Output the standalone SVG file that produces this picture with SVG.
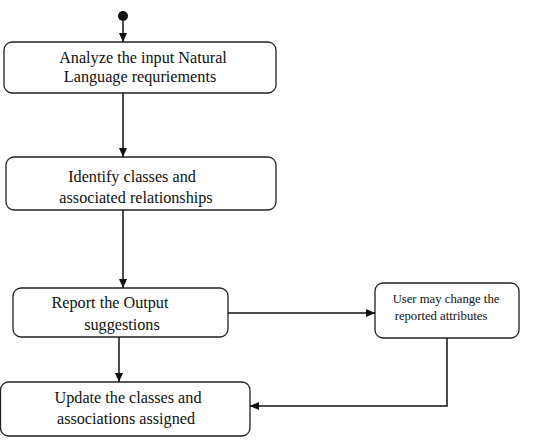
<svg xmlns="http://www.w3.org/2000/svg" width="544" height="443" viewBox="0 0 544 443">
<defs>
<marker id="ah" markerWidth="10" markerHeight="10" refX="9" refY="5" orient="auto" markerUnits="userSpaceOnUse">
<path d="M0,1 L9,5 L0,9 Z" fill="#111"/>
</marker>
</defs>
<style>
.box{fill:#fff;stroke:#222;stroke-width:1.3}
.t{font-family:'Liberation Serif','Times New Roman',serif;font-size:16.2px;fill:#111;text-anchor:middle}
.s{font-family:'Liberation Serif','Times New Roman',serif;font-size:12.7px;fill:#111;text-anchor:middle}
.c{fill:none;stroke:#111;stroke-width:1.5}
</style>
<rect width="544" height="443" fill="#fff"/>
<g id="start"><circle cx="123" cy="16" r="5" fill="#111"/></g>
<g id="n1"><rect class="box" x="4" y="42" width="272" height="51" rx="8"/>
<text class="t" x="143" y="63">Analyze the input Natural</text>
<text class="t" x="140" y="82">Language requriements</text></g>
<g id="n2"><rect class="box" x="6" y="157" width="270" height="53" rx="8"/>
<text class="t" x="132" y="182">Identify classes and</text>
<text class="t" x="136" y="203">associated relationships</text></g>
<g id="n3"><rect class="box" x="13" y="288" width="215" height="49" rx="8"/>
<text class="t" x="110" y="308">Report the Output</text>
<text class="t" x="122" y="330">suggestions</text></g>
<g id="n4"><rect class="box" x="375" y="283" width="144" height="55" rx="8"/>
<text class="s" x="446" y="303">User may change the</text>
<text class="s" x="441" y="320">reported attributes</text></g>
<g id="n5"><rect class="box" x="0.5" y="382" width="249.5" height="54" rx="8"/>
<text class="t" x="128" y="403">Update the classes and</text>
<text class="t" x="126" y="424">associations assigned</text></g>
<g id="connectors">
<path class="c" d="M123,21 V42" marker-end="url(#ah)"/>
<path class="c" d="M123,93 V157" marker-end="url(#ah)"/>
<path class="c" d="M123,210 V288" marker-end="url(#ah)"/>
<path class="c" d="M228,313 H375" marker-end="url(#ah)"/>
<path class="c" d="M119,337 V382" marker-end="url(#ah)"/>
<path class="c" d="M447,338 V406 H250" marker-end="url(#ah)"/>
</g>
</svg>
